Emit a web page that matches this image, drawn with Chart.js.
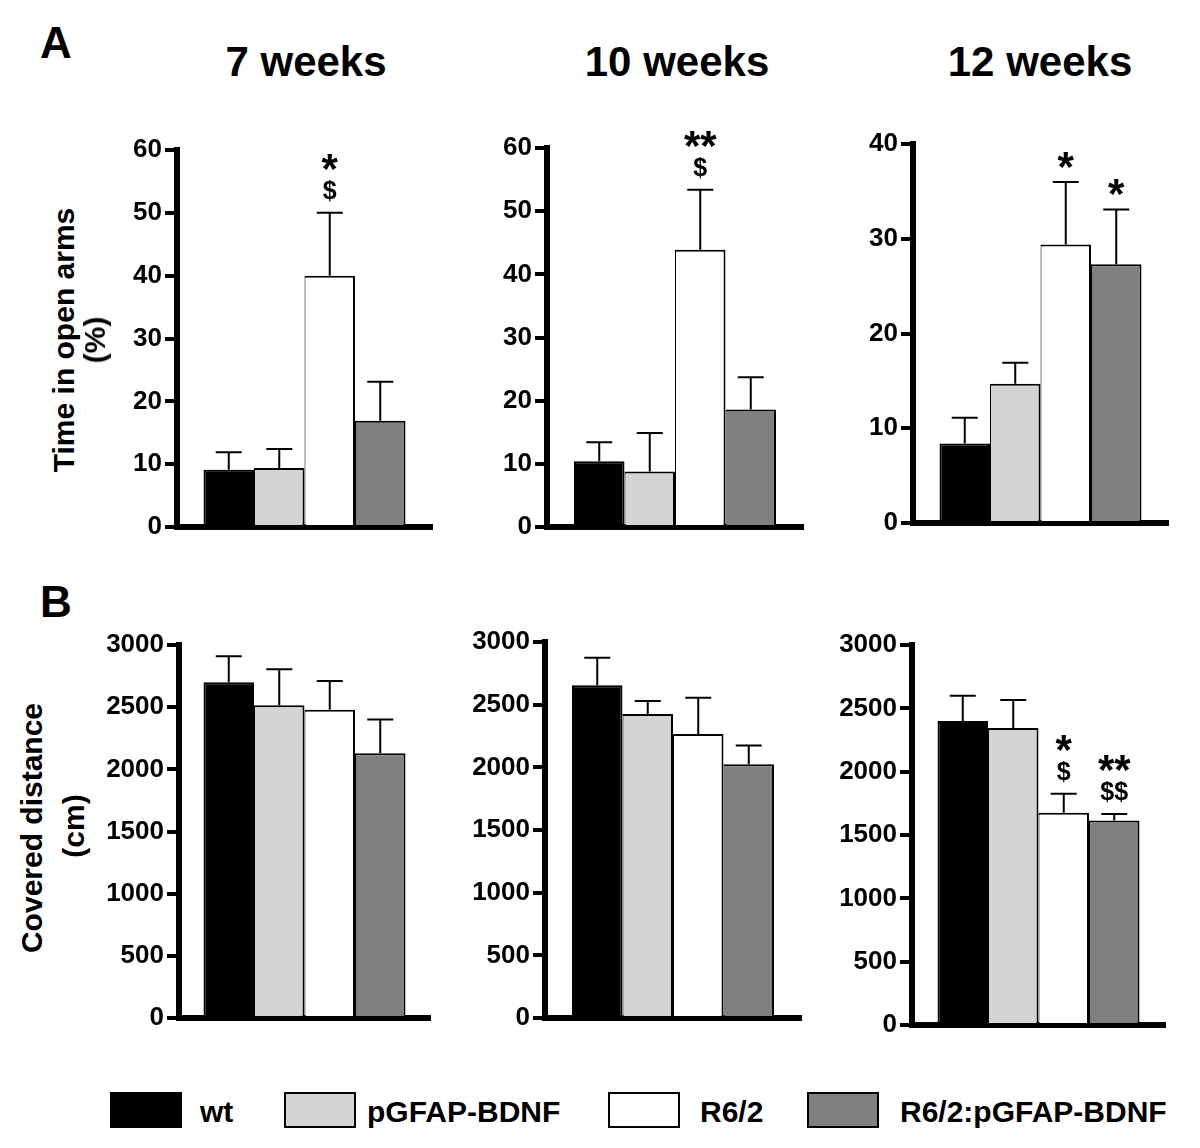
<!DOCTYPE html>
<html>
<head>
<meta charset="utf-8">
<script src="https://cdn.jsdelivr.net/npm/chart.js@4.4.0/dist/chart.umd.min.js"></script>
<style>
  body { margin: 0; width: 1200px; height: 1148px; position: relative; overflow: hidden; background: #fff;
         font-family: "Liberation Sans", Arial, sans-serif; font-weight: bold; color: #000; }
  .panel { position: absolute; }
  .txt { position: absolute; white-space: nowrap; line-height: 1; }
  .rot { position: absolute; white-space: nowrap; line-height: 1; font-size: 30px;
         transform: translate(-50%, -50%) rotate(-90deg); }
  .box { position: absolute; box-sizing: border-box; border: 2px solid #000; }
</style>
</head>
<body>
<script>
const FONT = '"Liberation Sans", Arial, sans-serif';

// groups and their fills
const groups = ["wt", "pGFAP-BDNF", "R6/2", "R6/2:pGFAP-BDNF"];
const groupColors = ["#000000", "#d4d4d4", "#ffffff", "#808080"];
const weeks = ["7 weeks", "10 weeks", "12 weeks"];

// tick labels
const armsTicks = [0, 10, 20, 30, 40, 50, 60];
const arms12Ticks = [0, 10, 20, 30, 40];
const distTicks = [0, 500, 1000, 1500, 2000, 2500, 3000];

// A: time in open arms (%), mean and SEM
const arms7Mean = [9.1, 9.4, 40.0, 16.9];
const arms7Sem = [2.8, 3.0, 10.0, 6.2];
const arms10Mean = [10.4, 8.8, 43.9, 18.6];
const arms10Sem = [3.0, 6.1, 9.5, 5.1];
const arms12Mean = [8.4, 14.7, 29.4, 27.3];
const arms12Sem = [2.7, 2.2, 6.6, 5.8];

// B: covered distance (cm), mean and SEM
const dist7Mean = [2700, 2515, 2480, 2130];
const dist7Sem = [210, 290, 230, 270];
const dist10Mean = [2655, 2425, 2265, 2025];
const dist10Sem = [220, 105, 290, 150];
const dist12Mean = [2400, 2345, 1675, 1615];
const dist12Sem = [200, 220, 150, 50];

// significance marks, top line first
const arms7Marks = [[], [], ["*", "$"], []];
const arms10Marks = [[], [], ["**", "$"], []];
const arms12Marks = [[], [], ["*"], ["*"]];
const noMarks = [[], [], [], []];
const dist12Marks = [[], [], ["*", "$"], ["**", "$$"]];

// plot area on the page: axis x, right end, top y, zero y
const panels = [
  { mean: arms7Mean, sem: arms7Sem, marks: arms7Marks, ticks: armsTicks, box: [177, 432, 150, 527] },
  { mean: arms10Mean, sem: arms10Sem, marks: arms10Marks, ticks: armsTicks, box: [547, 803, 148, 527] },
  { mean: arms12Mean, sem: arms12Sem, marks: arms12Marks, ticks: arms12Ticks, box: [913, 1168, 144, 523] },
  { mean: dist7Mean, sem: dist7Sem, marks: noMarks, ticks: distTicks, box: [179, 430, 645, 1018] },
  { mean: dist10Mean, sem: dist10Sem, marks: noMarks, ticks: distTicks, box: [545, 801, 642, 1018] },
  { mean: dist12Mean, sem: dist12Sem, marks: dist12Marks, ticks: distTicks, box: [912, 1165, 645, 1025] },
];

// error bars (upper only) and the */$ marks above them
const errorBars = {
  id: "errorBars",
  afterDatasetsDraw(chart) {
    const ctx = chart.ctx;
    const yScale = chart.scales.y;
    chart.data.datasets.forEach((ds, i) => {
      const bar = chart.getDatasetMeta(i).data[0];
      const top = yScale.getPixelForValue(ds.data[0] + ds.sem);
      ctx.save();
      ctx.strokeStyle = "#000";
      ctx.lineWidth = 2;
      ctx.beginPath();
      ctx.moveTo(bar.x, bar.y);
      ctx.lineTo(bar.x, top);
      ctx.moveTo(bar.x - 13, top);
      ctx.lineTo(bar.x + 13, top);
      ctx.stroke();

      ctx.fillStyle = "#000";
      ctx.textAlign = "center";
      let cy = top - 22;
      for (let k = ds.marks.length - 1; k >= 0; k--) {
        const s = ds.marks[k];
        ctx.font = (s.includes("*") ? "bold 42px " : "bold 25px ") + FONT;
        const m = ctx.measureText(s);
        ctx.fillText(s, bar.x, cy + (m.actualBoundingBoxAscent - m.actualBoundingBoxDescent) / 2);
        cy -= 29;
      }
      ctx.restore();
    });
  }
};

function makePanel(p) {
  const [ax, rx, ty, by] = p.box;
  const padL = 80, padR = 15, padT = 25, padB = 30;
  const w = rx - ax + padL + padR;
  const h = by - ty + padT + padB;
  const div = document.createElement("div");
  div.className = "panel";
  div.style.left = (ax - padL) + "px";
  div.style.top = (ty - padT) + "px";
  const cv = document.createElement("canvas");
  cv.width = w;
  cv.height = h;
  cv.style.width = w + "px";
  cv.style.height = h + "px";
  div.appendChild(cv);
  document.body.appendChild(div);

  new Chart(cv.getContext("2d"), {
    type: "bar",
    data: {
      labels: [""],
      datasets: groups.map((g, i) => ({
        label: g,
        data: [p.mean[i]],
        sem: p.sem[i],
        marks: p.marks[i],
        backgroundColor: groupColors[i],
        borderColor: "#000",
        borderWidth: { top: 2, right: 2, bottom: 0, left: i === 0 ? 2 : 1 },
        borderSkipped: false,
        categoryPercentage: 202 / (rx - ax),
        barPercentage: 1,
      })),
    },
    options: {
      responsive: false,
      animation: false,
      devicePixelRatio: 1,
      layout: { padding: { top: padT, right: padR, left: 0, bottom: 0 } },
      plugins: { legend: { display: false }, tooltip: { enabled: false } },
      scales: {
        x: {
          grid: { display: true, drawOnChartArea: false, drawTicks: false, lineWidth: 1 },
          border: { display: true, width: 6, color: "#000" },
          ticks: { display: false },
          afterFit: s => { s.height = padB; },
        },
        y: {
          min: p.ticks[0],
          max: p.ticks[p.ticks.length - 1],
          afterBuildTicks: s => { s.ticks = p.ticks.map(v => ({ value: v })); },
          grid: { drawOnChartArea: false, drawTicks: true, tickLength: 12, tickWidth: 4, lineWidth: 4, color: "#000" },
          border: { display: true, width: 6, color: "#000" },
          ticks: {
            color: "#000", padding: 3,
            font: { family: FONT, size: 26, weight: "bold" },
            callback: v => String(v),
          },
          afterFit: s => { s.width = padL; },
        },
      },
    },
    plugins: [errorBars],
  });
}

panels.forEach(makePanel);

// text placed by baseline
function addText(str, x, baseline, size, align) {
  const el = document.createElement("div");
  el.className = "txt";
  el.textContent = str;
  el.style.fontSize = size + "px";
  el.style.top = (baseline - 0.8465 * size) + "px";
  el.style.left = x + "px";
  if (align === "center") el.style.transform = "translateX(-50%)";
  document.body.appendChild(el);
}
function addRot(str, cx, cy) {
  const el = document.createElement("div");
  el.className = "rot";
  el.textContent = str;
  el.style.left = cx + "px";
  el.style.top = cy + "px";
  document.body.appendChild(el);
}

addText("A", 40, 58, 44);
addText("B", 40, 617, 44);
const titleX = [306, 677, 1040];
weeks.forEach((t, i) => addText(t, titleX[i], 77, 42, "center"));

addRot("Time in open arms", 64, 340);
addRot("(%)", 95, 340);
addRot("Covered distance", 32, 828);
addRot("(cm)", 74, 826);

// legend
const legendBoxX = [110, 284, 608, 807];
const legendTextX = [200, 367, 700, 900];
groups.forEach((g, i) => {
  const b = document.createElement("div");
  b.className = "box";
  b.style.left = legendBoxX[i] + "px";
  b.style.top = "1092px";
  b.style.width = "72px";
  b.style.height = "36px";
  b.style.background = groupColors[i];
  document.body.appendChild(b);
  addText(g, legendTextX[i], 1122, 30);
});
</script>
</body>
</html>
